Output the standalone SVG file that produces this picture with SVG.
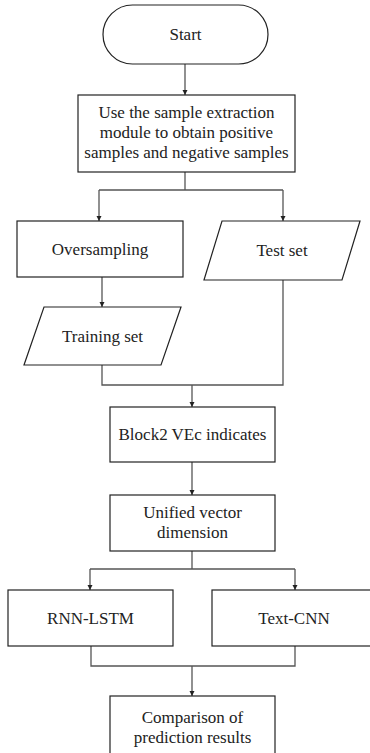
<svg xmlns="http://www.w3.org/2000/svg" width="370" height="753" viewBox="0 0 370 753">
<style>
.n{fill:#fff;stroke:#222;stroke-width:1.2}
.t{font-family:"Liberation Serif","Times New Roman",serif;font-size:17px;fill:#222;text-anchor:middle}
.c{fill:none;stroke:#555;stroke-width:1.3}
</style>
<defs>
<marker id="a" viewBox="0 0 10 10" refX="10" refY="5" markerWidth="5" markerHeight="6" orient="auto" markerUnits="userSpaceOnUse">
<path d="M0,0 L10,5 L0,10 z" fill="#222"/>
</marker>
</defs>
<rect width="370" height="753" fill="#fff"/>
<g id="connectors">
<path class="c" d="M185,64 V95" marker-end="url(#a)"/>
<path class="c" d="M185,172 V190"/>
<path class="c" d="M99,190 H283"/>
<path class="c" d="M99,190 V221" marker-end="url(#a)"/>
<path class="c" d="M283,190 V221" marker-end="url(#a)"/>
<path class="c" d="M102,277 V307" marker-end="url(#a)"/>
<path class="c" d="M102,365 V385 H283 V280"/>
<path class="c" d="M192,385 V407" marker-end="url(#a)"/>
<path class="c" d="M192,462 V495" marker-end="url(#a)"/>
<path class="c" d="M192,551 V569"/>
<path class="c" d="M90,569 H295"/>
<path class="c" d="M90,569 V590" marker-end="url(#a)"/>
<path class="c" d="M295,569 V590" marker-end="url(#a)"/>
<path class="c" d="M91,646 V666 H295 V646"/>
<path class="c" d="M192,666 V696" marker-end="url(#a)"/>
</g>
<g id="start">
<rect class="n" x="103" y="5" width="165" height="59" rx="29.5" ry="29.5"/>
<text class="t" x="185.5" y="40">Start</text>
</g>
<g id="extract">
<rect class="n" x="78" y="95" width="217" height="77"/>
<text class="t" x="186.5" y="118">Use the sample extraction</text>
<text class="t" x="186.5" y="138">module to obtain positive</text>
<text class="t" x="186.5" y="158">samples and negative samples</text>
</g>
<g id="oversampling">
<rect class="n" x="17" y="221" width="166" height="56"/>
<text class="t" x="100" y="255">Oversampling</text>
</g>
<g id="testset">
<polygon class="n" points="222,221 360,221 342,280 204,280"/>
<text class="t" x="282" y="256">Test set</text>
</g>
<g id="trainingset">
<polygon class="n" points="44,307 181,307 161,365 24,365"/>
<text class="t" x="102.5" y="342">Training set</text>
</g>
<g id="block2vec">
<rect class="n" x="110" y="407" width="165" height="55"/>
<text class="t" x="192.5" y="440">Block2 VEc indicates</text>
</g>
<g id="unified">
<rect class="n" x="110" y="495" width="165" height="56"/>
<text class="t" x="192.5" y="518">Unified vector</text>
<text class="t" x="192.5" y="538">dimension</text>
</g>
<g id="rnnlstm">
<rect class="n" x="8" y="590" width="165" height="56"/>
<text class="t" x="90.5" y="624">RNN-LSTM</text>
</g>
<g id="textcnn">
<rect class="n" x="212" y="590" width="165" height="56"/>
<text class="t" x="294" y="624">Text-CNN</text>
</g>
<g id="comparison">
<rect class="n" x="110" y="696" width="165" height="70"/>
<text class="t" x="192.5" y="723">Comparison of</text>
<text class="t" x="192.5" y="743">prediction results</text>
</g>
</svg>
